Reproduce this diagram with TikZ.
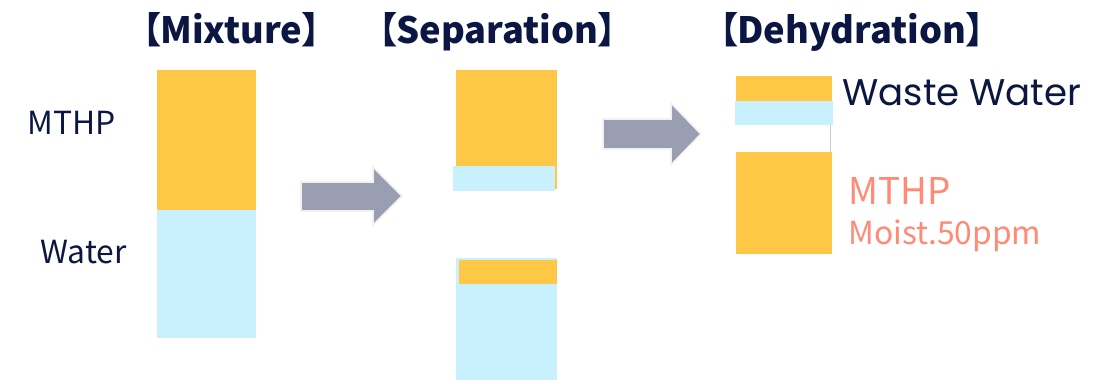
\documentclass[tikz,border=0pt]{standalone}
\usepackage{fontspec}
\newfontfamily\jpfont{Noto Sans CJK JP}
\newfontfamily\jptitle[RawFeature=+palt]{Noto Sans CJK JP}
\newfontfamily\popfont{Poppins}
\definecolor{navy}{HTML}{0B1742}
\definecolor{oil}{HTML}{FEC846}
\definecolor{aqua}{HTML}{C8F0FD}
\definecolor{salmon}{HTML}{FF8A75}
\definecolor{arrowgray}{HTML}{9A9EB2}
\definecolor{rim}{HTML}{F4F2EE}
\tikzset{
	title/.style={anchor=base west,inner sep=0pt,text=navy,font=\jptitle\bfseries\fontsize{25.8}{30}\selectfont},
	side/.style={anchor=base west,inner sep=0pt,text=navy,font=\jpfont\fontsize{22.6}{26}\selectfont},
	oillayer/.style={fill=oil},
	waterlayer/.style={fill=aqua},
	blockarrow/.style={fill=arrowgray,draw=rim,line width=1.2pt,line join=miter}
}
\begin{document}
\begin{tikzpicture}[x=0.025cm,y=-0.025cm]
	\useasboundingbox (0,0) rectangle (1102,383);
	% titles
	\node[title](mix) at (142,43){【Mixture】};
	\node[title](sep) at (378,43){【Separation】};
	\node[title](deh) at (719,43){【Dehydration】};
	% mixture
	\fill[oillayer] (157,70) rectangle (256,210);
	\fill[waterlayer] (157,210) rectangle (256,338);
	\node[side](mthp) at (27,134){MTHP};
	\node[side](water) at (40,263){Water};
	% separation
	\fill[oillayer] (456,70) rectangle (557,189);
	\fill[waterlayer] (453,166) rectangle (555,191);
	\fill[waterlayer] (456,258) rectangle (557,380);
	\fill[oillayer] (459,260) rectangle (557,284);
	% dehydration
	\fill[oillayer] (736,76) rectangle (832,101);
	\fill[waterlayer] (735,101) rectangle (833,125);
	\draw[black!20,line width=0.6pt] (830.5,125) -- (830.5,152);
	\fill[oillayer] (736,152) rectangle (832,254);
	\node[anchor=base west,inner sep=0pt,text=navy,font=\popfont\fontsize{26.4}{30}\selectfont](waste) at (842,105){Waste Water};
	\node[anchor=base west,inner sep=0pt,text=salmon,font=\jpfont\fontsize{26.2}{30}\selectfont](dry) at (848,204){MTHP};
	\node[anchor=base west,inner sep=0pt,text=salmon,font=\jpfont\fontsize{22.6}{26}\selectfont](moist) at (848,244){Moist.50ppm};
	% arrows
	\draw[blockarrow] (301,182) -- (373,182) -- (373,167) -- (402,196) -- (373,225) -- (373,211) -- (301,211) -- cycle;
	\draw[blockarrow] (603,119) -- (671,119) -- (671,103) -- (701,134) -- (671,165) -- (671,149) -- (603,149) -- cycle;
\end{tikzpicture}
\end{document}
